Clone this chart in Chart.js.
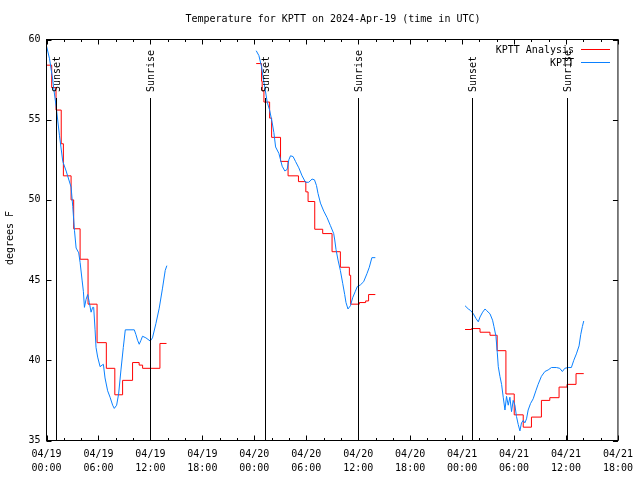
<!DOCTYPE html>
<html>
<head>
<meta charset="utf-8">
<script src="https://cdn.jsdelivr.net/npm/chart.js@4/dist/chart.umd.min.js"></script>
<style>
  html, body { margin: 0; padding: 0; background: #fff; }
  #wrap { width: 640px; height: 480px; }
</style>
</head>
<body>
<div id="wrap"><canvas id="chart"></canvas></div>
<script>
// Temperatura KPTT: observaciones (azul) y analisis (rojo, escalonado), horas desde 04/19 00:00 UTC
const obsHours = [
  [0, 0.35, 0.69, 0.92, 1.12, 1.5, 1.88, 2.27, 2.84, 3.03, 3.23, 3.42, 3.72, 3.88, 4.11, 4.26, 4.38, 4.57, 4.76, 4.95,
   5.15, 5.33, 5.45, 5.61, 5.72, 5.91, 6.19, 6.42, 6.57, 6.76, 7.06, 7.34, 7.64, 7.83, 8.10, 8.33, 8.60, 8.87, 9.10, 10.14,
   10.33, 10.52, 10.71, 10.91, 11.09, 11.48, 11.98, 12.24, 12.64, 13.02, 13.40, 13.71, 13.90],
  [24.22, 24.53, 24.84, 24.99, 25.22, 25.49, 25.77, 26.07, 26.26, 26.46, 26.84, 27.03, 27.22, 27.53, 27.79, 27.99, 28.18, 28.48, 28.76, 29.14,
   29.52, 29.91, 30.29, 30.67, 30.95, 31.18, 31.36, 31.64, 32.02, 32.40, 32.79, 33.17, 33.29, 33.44, 33.67, 33.94, 34.21, 34.44, 34.59, 34.82,
   35.10, 35.36, 35.67, 35.90, 36.25, 36.63, 37.01, 37.28, 37.58, 37.98],
  [48.34, 48.72, 48.99, 49.30, 49.61, 49.87, 50.07, 50.37, 50.65, 50.83, 51.22, 51.52, 51.68, 51.91, 52.06, 52.18, 52.37, 52.56, 52.75, 52.95,
   53.13, 53.33, 53.52, 53.71, 53.90, 54.10, 54.28, 54.48, 54.68, 54.86, 55.06, 55.25, 55.44, 55.63, 55.90, 56.21, 56.52, 56.78, 57.16, 57.56,
   57.94, 58.32, 58.89, 59.28, 59.58, 59.86, 60.24, 60.62, 60.90, 61.20, 61.51, 61.70, 61.89, 62.05],
];
const obsTemps = [
  [59.6, 58.8, 57.6, 56.6, 55.8, 54.0, 52.4, 51.8, 50.8, 49.6, 48.1, 47.0, 46.7, 46.1, 45.0, 44.3, 43.3, 43.8, 44.1, 43.6,
   43.0, 43.3, 43.3, 41.9, 40.8, 40.2, 39.6, 39.7, 39.75, 38.9, 38.1, 37.7, 37.2, 37.0, 37.2, 37.9, 39.4, 40.8, 41.9, 41.9,
   41.6, 41.25, 41.0, 41.25, 41.5, 41.4, 41.2, 41.4, 42.3, 43.25, 44.5, 45.6, 45.9],
  [59.3, 59.0, 58.3, 57.7, 57.0, 56.1, 55.6, 54.8, 54.2, 53.3, 52.9, 52.5, 52.1, 51.8, 51.9, 52.5, 52.75, 52.7, 52.4, 52.0,
   51.5, 51.1, 51.1, 51.3, 51.25, 50.9, 50.4, 49.8, 49.3, 48.9, 48.4, 47.9, 47.5, 46.9, 46.25, 45.6, 44.8, 44.1, 43.6, 43.2,
   43.4, 43.9, 44.3, 44.6, 44.7, 44.9, 45.4, 45.8, 46.4, 46.4],
  [43.4, 43.2, 43.1, 42.9, 42.6, 42.4, 42.7, 43.0, 43.2, 43.1, 42.9, 42.5, 42.1, 41.5, 40.5, 39.6, 39.0, 38.5, 37.7, 36.9,
   37.75, 37.2, 37.7, 36.8, 37.5, 37.2, 36.5, 36.0, 35.6, 36.1, 36.25, 36.1, 36.35, 36.9, 37.3, 37.6, 38.1, 38.5, 39.0, 39.3,
   39.4, 39.55, 39.55, 39.5, 39.3, 39.5, 39.55, 39.55, 40.0, 40.4, 40.9, 41.6, 42.1, 42.45],
];
const anaHours = [
  [0, 0.6, 1.1, 1.7, 1.95, 2.84, 3.14, 3.88, 4.80, 5.84, 6.91, 7.89, 8.79, 9.94, 10.7, 11.1, 13.10, 13.86],
  [24.22, 24.84, 24.91, 25.11, 25.77, 26.00, 27.03, 27.9, 29.1, 29.95, 30.21, 30.98, 31.9, 32.98, 33.94, 34.98, 35.13, 36.13, 36.86, 37.2, 37.98],
  [48.34, 49.10, 50.07, 51.22, 52.05, 53.06, 54.02, 55.06, 56.01, 57.16, 58.13, 59.20, 60.12, 61.16, 62.05],
];
const anaTemps = [
  [58.4, 57.0, 55.6, 53.5, 51.5, 50.0, 48.2, 46.3, 43.5, 41.1, 39.5, 37.85, 38.75, 39.86, 39.7, 39.5, 41.05, 41.05],
  [58.5, 57.4, 56.8, 56.1, 55.1, 53.9, 52.4, 51.5, 51.14, 50.5, 49.9, 48.17, 47.9, 46.77, 45.8, 45.3, 43.5, 43.6, 43.7, 44.1, 44.1],
  [41.92, 41.98, 41.75, 41.56, 40.6, 37.9, 36.6, 35.83, 36.46, 37.5, 37.67, 38.33, 38.5, 39.17, 39.17],
];
const sunHours = [1.15, 11.98, 25.22, 35.94, 49.19, 60.14];
const sunLabels = ["Sunset", "Sunrise", "Sunset", "Sunrise", "Sunset", "Sunrise"];
const dayLabels = ["04/19", "04/20", "04/21"];
const timeLabels = ["00:00", "06:00", "12:00", "18:00"];

const FONT = '10px "DejaVu Sans Mono", monospace';
Chart.defaults.font.family = '"DejaVu Sans Mono", monospace';
Chart.defaults.font.size = 10;
Chart.defaults.color = "#000";

// junta los tramos con un hueco (y null) entre ellos
function toPoints(hoursSets, tempSets) {
  const pts = [];
  hoursSets.forEach((hs, i) => {
    if (i) pts.push({ x: (hoursSets[i - 1][hoursSets[i - 1].length - 1] + hs[0]) / 2, y: null });
    hs.forEach((h, j) => pts.push({ x: h, y: tempSets[i][j] }));
  });
  return pts;
}

const decor = {
  id: "decor",
  afterDatasetsDraw(chart) {
    const { ctx, chartArea: a, scales: { x, y } } = chart;
    ctx.save();
    ctx.strokeStyle = "#000";
    ctx.fillStyle = "#000";
    ctx.lineWidth = 1;
    ctx.font = FONT;

    // lineas de amanecer / atardecer
    sunHours.forEach((h, i) => {
      const px = Math.round(x.getPixelForValue(h)) + 0.5;
      ctx.beginPath(); ctx.moveTo(px, 98); ctx.lineTo(px, a.bottom); ctx.stroke();
      ctx.save();
      ctx.translate(px + 1, 92);
      ctx.rotate(-Math.PI / 2);
      ctx.textAlign = "left"; ctx.textBaseline = "middle";
      ctx.fillText(sunLabels[i], 0, 0);
      ctx.restore();
    });

    // marco y marcas hacia dentro
    ctx.strokeRect(a.left, a.top, a.right - a.left, a.bottom - a.top);
    ctx.beginPath();
    for (let h = x.min; h <= x.max; h += 2) {
      const px = Math.round(x.getPixelForValue(h)) + 0.5;
      const len = h % 6 === 0 ? 5 : 2.5;
      ctx.moveTo(px, a.bottom); ctx.lineTo(px, a.bottom - len);
      ctx.moveTo(px, a.top); ctx.lineTo(px, a.top + len);
    }
    for (let v = y.min; v <= y.max; v += 5) {
      const py = Math.round(y.getPixelForValue(v)) + 0.5;
      ctx.moveTo(a.left, py); ctx.lineTo(a.left + 5, py);
      ctx.moveTo(a.right, py); ctx.lineTo(a.right - 5, py);
    }
    ctx.stroke();

    // titulo y eje y
    ctx.textAlign = "center"; ctx.textBaseline = "middle";
    ctx.fillText("Temperature for KPTT on 2024-Apr-19 (time in UTC)", 333, 19);
    ctx.save();
    ctx.translate(10, 238);
    ctx.rotate(-Math.PI / 2);
    ctx.fillText("degrees F", 0, 0);
    ctx.restore();

    // leyenda
    ctx.textAlign = "right";
    chart.data.datasets.forEach((ds, i) => {
      const ly = 50 + i * 13;
      ctx.fillStyle = "#000";
      ctx.fillText(ds.label, 574, ly);
      ctx.strokeStyle = ds.borderColor;
      ctx.beginPath(); ctx.moveTo(581, ly - 0.5); ctx.lineTo(610, ly - 0.5); ctx.stroke();
    });
    ctx.restore();
  },
};

new Chart("chart", {
  type: "line",
  data: {
    datasets: [
      { label: "KPTT Analysis", data: toPoints(anaHours, anaTemps), borderColor: "#ff0000",
        borderWidth: 1, pointRadius: 0, stepped: "before", spanGaps: false, order: 2 },
      { label: "KPTT", data: toPoints(obsHours, obsTemps), borderColor: "#0a80ff",
        borderWidth: 1, pointRadius: 0, tension: 0, spanGaps: false, order: 1 },
    ],
  },
  options: {
    animation: false,
    responsive: true,
    maintainAspectRatio: false,
    layout: { padding: { top: 39.5, right: 18.5, left: 0, bottom: 0 } },
    plugins: { legend: { display: false }, tooltip: { enabled: false } },
    scales: {
      x: {
        type: "linear", min: 0, max: 66,
        grid: { display: false, drawTicks: false },
        border: { display: false },
        afterFit: (s) => { s.height = 39.5; },
        ticks: {
          stepSize: 6, autoSkip: false, maxRotation: 0, padding: 7,
          font: { size: 10, lineHeight: 1.4 },
          callback: (v) => [dayLabels[Math.floor(v / 24)], timeLabels[(v % 24) / 6]],
        },
      },
      y: {
        min: 35, max: 60,
        grid: { display: false, drawTicks: false },
        border: { display: false },
        afterFit: (s) => { s.width = 46.5; },
        ticks: { stepSize: 5, padding: 6 },
      },
    },
  },
  plugins: [decor],
});
</script>
</body>
</html>
